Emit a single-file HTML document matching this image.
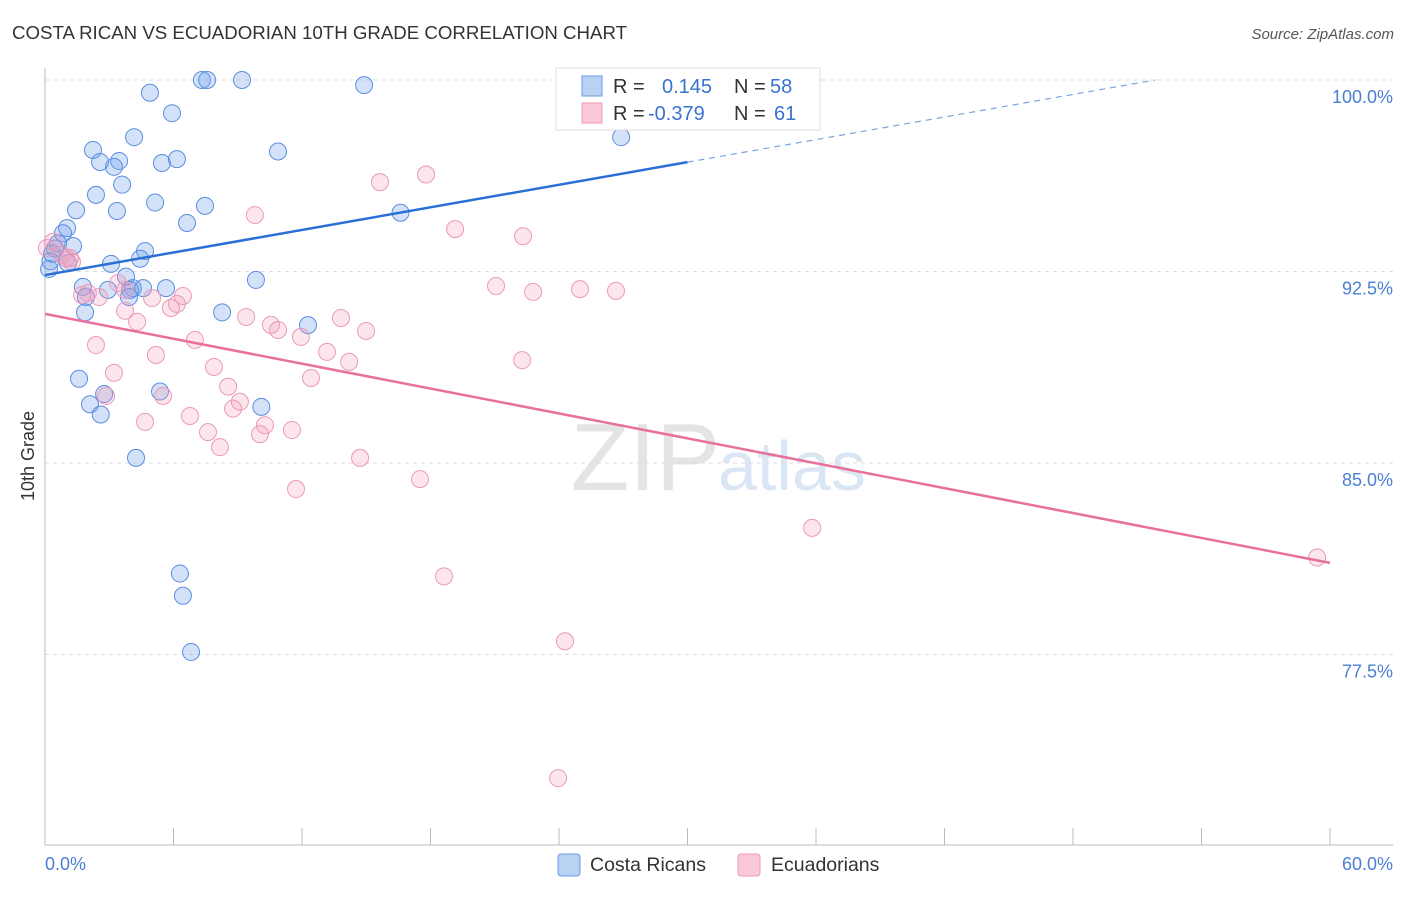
<!DOCTYPE html>
<html><head><meta charset="utf-8"><style>
body{margin:0;background:#fff;font-family:"Liberation Sans",sans-serif}
svg text{font-family:"Liberation Sans",sans-serif}
</style></head><body>
<svg id="chart" width="1406" height="892">
<text x="12" y="39" font-size="18" fill="#333" textLength="615" lengthAdjust="spacingAndGlyphs">COSTA RICAN VS ECUADORIAN 10TH GRADE CORRELATION CHART</text>
<text x="1394" y="39" font-size="15" fill="#555" text-anchor="end" font-style="italic">Source: ZipAtlas.com</text>
<text x="720" y="490" font-size="96" fill="#e4e4e4" text-anchor="end" font-family="Liberation Serif">ZIP</text>
<text x="718" y="490" font-size="70" fill="#dbe6f5">atlas</text>
<g id="grid"></g><g id="axes"></g><g id="pts"></g><g id="lines"></g>
<text transform="translate(34,456) rotate(-90)" font-size="18" fill="#333" text-anchor="middle">10th Grade</text>
<text x="45" y="870" font-size="18" fill="#4a7fd4">0.0%</text>
<text x="1393" y="870" font-size="18" fill="#4a7fd4" text-anchor="end">60.0%</text>
<g>
<rect x="556" y="68" width="264" height="62" fill="#fff" stroke="#ddd"/>
<rect x="582" y="76" width="20" height="20" fill="#b9d1f3" stroke="#6b9ae0"/>
<rect x="582" y="103" width="20" height="20" fill="#f9c9d8" stroke="#ee9ab8"/>
<text x="613" y="93" font-size="20" fill="#333">R =</text><text x="662" y="93" font-size="20" fill="#3a72d0">0.145</text>
<text x="734" y="93" font-size="20" fill="#333">N =</text><text x="770" y="93" font-size="20" fill="#3a72d0">58</text>
<text x="613" y="120" font-size="20" fill="#333">R =</text><text x="648" y="120" font-size="20" fill="#3a72d0">-0.379</text>
<text x="734" y="120" font-size="20" fill="#333">N =</text><text x="774" y="120" font-size="20" fill="#3a72d0">61</text>
</g>
<g>
<rect x="558" y="854" width="22" height="22" fill="#b9d1f3" stroke="#6b9ae0" rx="3"/>
<text x="590" y="871" font-size="19.5" fill="#333">Costa Ricans</text>
<rect x="738" y="854" width="22" height="22" fill="#f9c9d8" stroke="#ee9ab8" rx="3"/>
<text x="771" y="871" font-size="19.5" fill="#333">Ecuadorians</text>
</g>
</svg>
<script>
const yTicks=[100,92.5,85,77.5];
const yTickLabels=["100.0%","92.5%","85.0%","77.5%"];
const xTicks=[0,6,12,18,24,30,36,42,48,54,60];
const blueX=[4.9,7.33,7.57,9.2,14.9,5.93,4.16,2.24,2.57,3.46,3.22,5.46,6.16,10.88,3.6,2.38,5.14,1.45,3.36,7.47,6.63,16.6,26.9,1.03,0.84,0.61,1.31,0.47,0.33,4.67,4.44,3.08,1.07,0.19,3.78,9.85,1.77,4.1,2.94,1.91,3.97,4.58,5.65,3.92,1.87,8.27,12.28,1.59,5.37,2.76,2.1,10.1,2.6,4.25,6.3,6.44,6.82,0.25];
const blueY=[99.5,100,100,100,99.8,98.7,97.76,97.26,96.79,96.83,96.6,96.75,96.9,97.2,95.9,95.5,95.2,94.9,94.87,95.07,94.4,94.8,97.76,94.2,94.0,93.6,93.5,93.4,93.2,93.3,93.0,92.8,92.83,92.6,92.3,92.17,91.9,91.85,91.78,91.5,91.78,91.85,91.85,91.5,90.9,90.9,90.4,88.3,87.8,87.7,87.3,87.2,86.9,85.2,80.67,79.8,77.6,92.9];
const pinkX=[0.37,0.09,0.79,1.17,1.26,0.98,1.73,2.0,2.52,3.41,3.74,5.0,6.44,6.16,5.88,4.3,3.74,2.38,3.22,2.85,4.67,5.18,5.51,6.77,7.0,7.89,7.61,8.17,8.55,8.78,9.1,9.39,9.8,10.04,10.27,10.55,10.88,11.95,11.53,11.72,12.42,13.17,13.82,14.2,14.99,14.71,15.64,17.79,17.51,19.15,18.63,21.06,22.32,22.79,22.28,24.98,26.66,24.28,23.96,35.82,59.4];
const pinkY=[93.66,93.42,93.15,93.03,92.87,93.03,91.58,91.66,91.5,92.05,91.78,91.46,91.54,91.23,91.07,90.53,90.96,89.62,88.53,87.63,86.61,89.23,87.63,86.84,89.82,88.76,86.21,85.62,87.99,87.13,87.4,90.72,94.71,86.13,86.48,90.41,90.21,89.94,86.29,83.98,88.33,89.35,90.68,88.96,90.17,85.2,96.0,96.3,84.37,94.16,80.56,91.93,93.88,91.7,89.03,91.81,91.74,78.02,72.66,82.46,81.3];
const blueTrend=[92.36,0.1474];
const pinkTrend=[90.84,-0.1625];
const sx=v=>45+v*(1285/60);
const sy=v=>80+(100-v)*(191.5/7.5);
const NS="http://www.w3.org/2000/svg";
function mk(tag,attrs,parent){const e=document.createElementNS(NS,tag);for(const k in attrs)e.setAttribute(k,attrs[k]);document.getElementById(parent).appendChild(e);return e;}
yTicks.forEach((t,i)=>{
 const l=mk('line',{x1:45,x2:1393,y1:sy(t),y2:sy(t),stroke:'#ddd','stroke-dasharray':'4,4'},'grid');
 
 
 const tx=mk('text',{x:1393,y:sy(t)+23,'font-size':18,fill:'#4a7fd4','text-anchor':'end'},'grid');
 tx.textContent=yTickLabels[i];
 
 
});
const ax=mk('line',{x1:45,x2:45,y1:68,y2:845,stroke:'#bbb'},'axes');


const bx=mk('line',{x1:45,x2:1393,y1:845,y2:845,stroke:'#bbb'},'axes');


xTicks.forEach(t=>{
 const l=mk('line',{x1:sx(t),x2:sx(t),y1:828,y2:845,stroke:'#bbb'},'axes');
 
 
});
blueX.forEach((x,i)=>{
 const c=mk('circle',{cx:sx(x),cy:sy(blueY[i]),r:8.5,fill:'rgba(110,160,235,0.3)',stroke:'#5b8ee0','stroke-width':1},'pts');
 
 
});
pinkX.forEach((x,i)=>{
 const c=mk('circle',{cx:sx(x),cy:sy(pinkY[i]),r:8.5,fill:'rgba(245,150,185,0.25)',stroke:'#eb9ab8','stroke-width':1},'pts');
 
 
});
const bEnd=30,bMax=(100-blueTrend[0])/blueTrend[1];
const b1=mk('line',{x1:sx(0),y1:sy(blueTrend[0]),x2:sx(bEnd),y2:sy(blueTrend[0]+blueTrend[1]*bEnd),stroke:'#2a6fd6','stroke-width':2.5},'lines');


const b2=mk('line',{x1:sx(bEnd),y1:sy(blueTrend[0]+blueTrend[1]*bEnd),x2:sx(bMax),y2:sy(100),stroke:'#7aa3e0','stroke-width':1.2,'stroke-dasharray':'6,5'},'lines');


const p1=mk('line',{x1:sx(0),y1:sy(pinkTrend[0]),x2:sx(60),y2:sy(pinkTrend[0]+pinkTrend[1]*60),stroke:'#e8709a','stroke-width':2.5},'lines');


</script>
</body></html>
